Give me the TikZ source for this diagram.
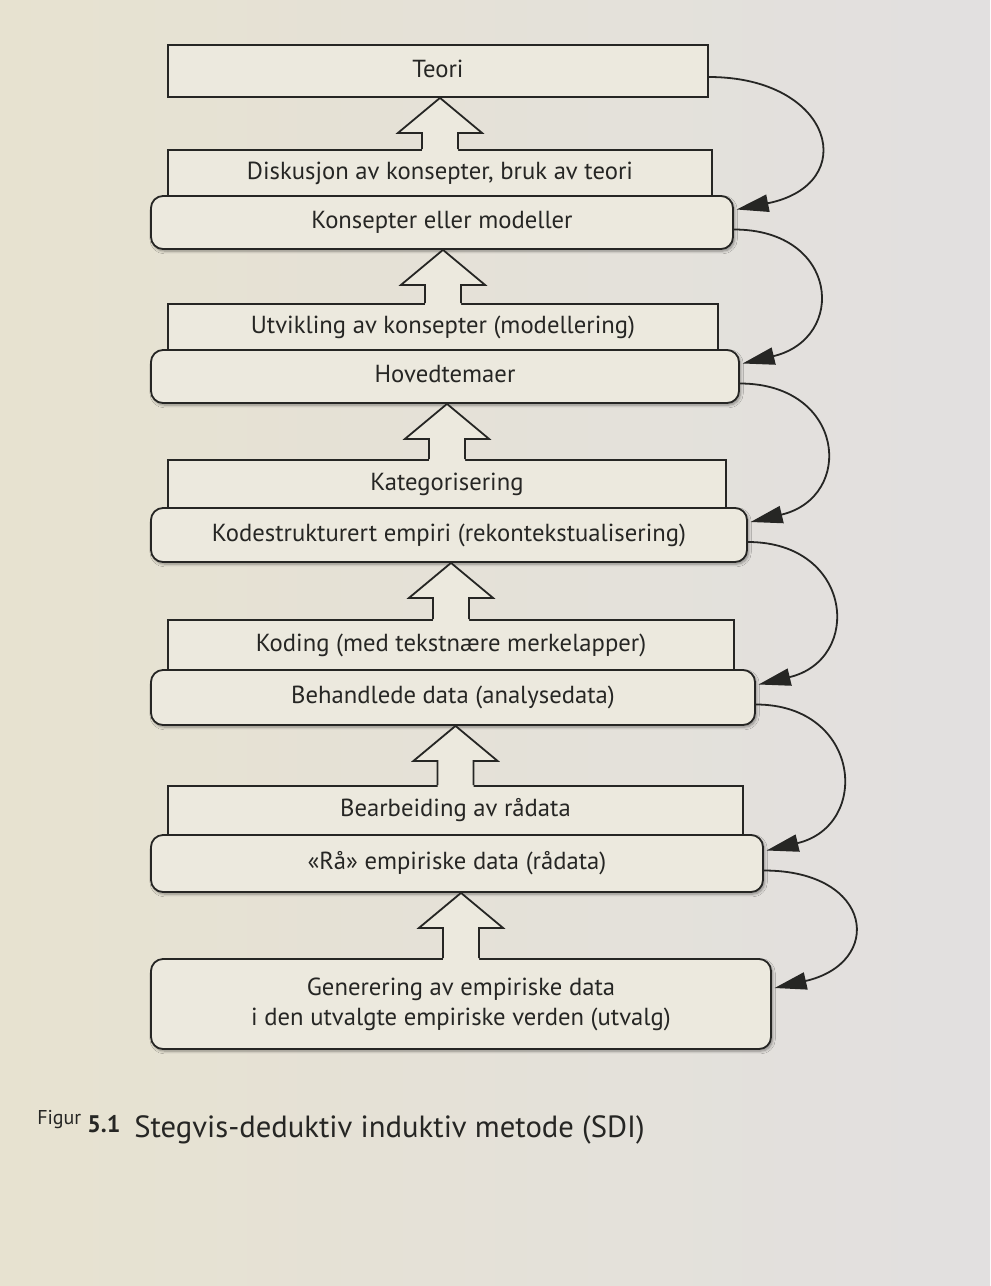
\documentclass[tikz,border=0pt]{standalone}
\usepackage{fontspec}
\setmainfont{PT Sans}
\usetikzlibrary{arrows.meta,shadows.blur,calc}
\definecolor{pageL}{RGB}{231,226,208}
\definecolor{pageR}{RGB}{226,224,224}
\definecolor{boxfill}{RGB}{236,233,222}
\definecolor{ink}{RGB}{38,38,36}
\newcommand\blockarrow[2]{%
  \coordinate (T-#2) at (#2.north |- #1.south);
  \fill[boxfill] ($(#2.north)+(-18,3)$) -- ($(T-#2)+(-18,35)$) -- ($(T-#2)+(-42,35)$) -- (T-#2)
     -- ($(T-#2)+(42,35)$) -- ($(T-#2)+(18,35)$) -- ($(#2.north)+(18,3)$) -- cycle;
  \draw[barrowline] ($(#2.north)+(-18,0)$) -- ($(T-#2)+(-18,35)$) -- ($(T-#2)+(-42,35)$) -- (T-#2)
     -- ($(T-#2)+(42,35)$) -- ($(T-#2)+(18,35)$) -- ($(#2.north)+(18,0)$);
}
\begin{document}
\begin{tikzpicture}[x=0.75pt,y=-0.75pt,
  lvl/.style={draw=ink, line width=1.35pt, fill=boxfill, inner sep=0pt, text=ink,
    font=\fontsize{18.5}{22.5}\selectfont, align=center},
  sq/.style={lvl, text height=13pt, text depth=4pt},
  rnd/.style={lvl, rounded corners=9pt,
    blur shadow={shadow xshift=1.2pt, shadow yshift=-1.6pt, shadow opacity=40, shadow blur steps=6}},
  rndone/.style={rnd, text height=13pt, text depth=4pt},
  conn/.style={draw=ink, line width=1.35pt, -{Triangle[length=24pt,width=13pt]}},
  barrowline/.style={draw=ink, line width=1.35pt, line join=miter}
]
\fill[left color=pageL, right color=pageR] (0,0) rectangle (990,1286);
\useasboundingbox (0,0) rectangle (990,1286);

% Teori
\node[sq, minimum width={540*0.75pt}, minimum height={52*0.75pt}] (teori) at (438,71) {Teori};
% level 1
\node[sq, minimum width={544*0.75pt}, minimum height={46*0.75pt}] (disk) at (440,173) {Diskusjon av konsepter, bruk av teori};
\blockarrow{teori}{disk}
\node[rndone, minimum width={582*0.75pt}, minimum height={53*0.75pt}] (kons) at (442,222.5) {Konsepter eller modeller};
% level 2
\node[sq, minimum width={550*0.75pt}, minimum height={46*0.75pt}] (utv) at (443,327) {Utvikling av konsepter (modellering)};
\blockarrow{kons}{utv}
\node[rndone, minimum width={588*0.75pt}, minimum height={53*0.75pt}] (hoved) at (445,376.5) {Hovedtemaer};
% level 3
\node[sq, minimum width={558*0.75pt}, minimum height={48*0.75pt}] (kat) at (447,484) {Kategorisering};
\blockarrow{hoved}{kat}
\node[rndone, minimum width={596*0.75pt}, minimum height={54*0.75pt}] (kode) at (449,535) {Kodestrukturert empiri (rekontekstualisering)};
% level 4
\node[sq, minimum width={566*0.75pt}, minimum height={50*0.75pt}] (koding) at (451,645) {Koding (med tekstnære merkelapper)};
\blockarrow{kode}{koding}
\node[rndone, minimum width={604*0.75pt}, minimum height={55*0.75pt}] (beh) at (453,697.5) {Behandlede data (analysedata)};
% level 5
\node[sq, minimum width={575*0.75pt}, minimum height={49*0.75pt}] (bearb) at (455.5,810.5) {Bearbeiding av rådata};
\blockarrow{beh}{bearb}
\node[rndone, minimum width={612*0.75pt}, minimum height={57*0.75pt}] (raa) at (457,863.5) {«Rå» empiriske data (rådata)};
% bottom
\node[rnd, minimum width={620*0.75pt}, minimum height={90*0.75pt}] (gen) at (461,1004) {Generering av empiriske data\\i den utvalgte empiriske verden (utvalg)};
\blockarrow{raa}{gen}

% curved connectors
\draw[conn] ([yshift=-4.5pt]teori.east) .. controls +(125,0) and +(125,-25) .. ([xshift=2pt,yshift=9.75pt]kons.east);
\draw[conn] ([yshift=-5.25pt]kons.east) .. controls +(105,0) and +(105,-25) .. ([xshift=2pt,yshift=9.75pt]hoved.east);
\draw[conn] ([yshift=-5.25pt]hoved.east) .. controls +(105,0) and +(105,-25) .. ([xshift=2pt,yshift=9.75pt]kode.east);
\draw[conn] ([yshift=-5.25pt]kode.east) .. controls +(105,0) and +(105,-25) .. ([xshift=2pt,yshift=9.75pt]beh.east);
\draw[conn] ([yshift=-5.25pt]beh.east) .. controls +(105,0) and +(105,-25) .. ([xshift=2pt,yshift=9.75pt]raa.east);
\draw[conn] ([yshift=-5.25pt]raa.east) .. controls +(110,0) and +(110,-25) .. ([xshift=2pt,yshift=12pt]gen.east);

% caption
\node[anchor=base west, text=ink, inner sep=0pt, font=\fontsize{15}{17}\selectfont] (figlab) at (37,1124) {Figur};
\node[anchor=base west, text=ink, inner sep=0pt, font=\fontsize{18}{20}\selectfont\bfseries] (fignum) at (87,1132) {5.1};
\node[anchor=base west, text=ink, inner sep=0pt, font=\fontsize{23}{27}\selectfont] (cap) at (134,1137) {Stegvis-deduktiv induktiv metode (SDI)};
\end{tikzpicture}
\end{document}
